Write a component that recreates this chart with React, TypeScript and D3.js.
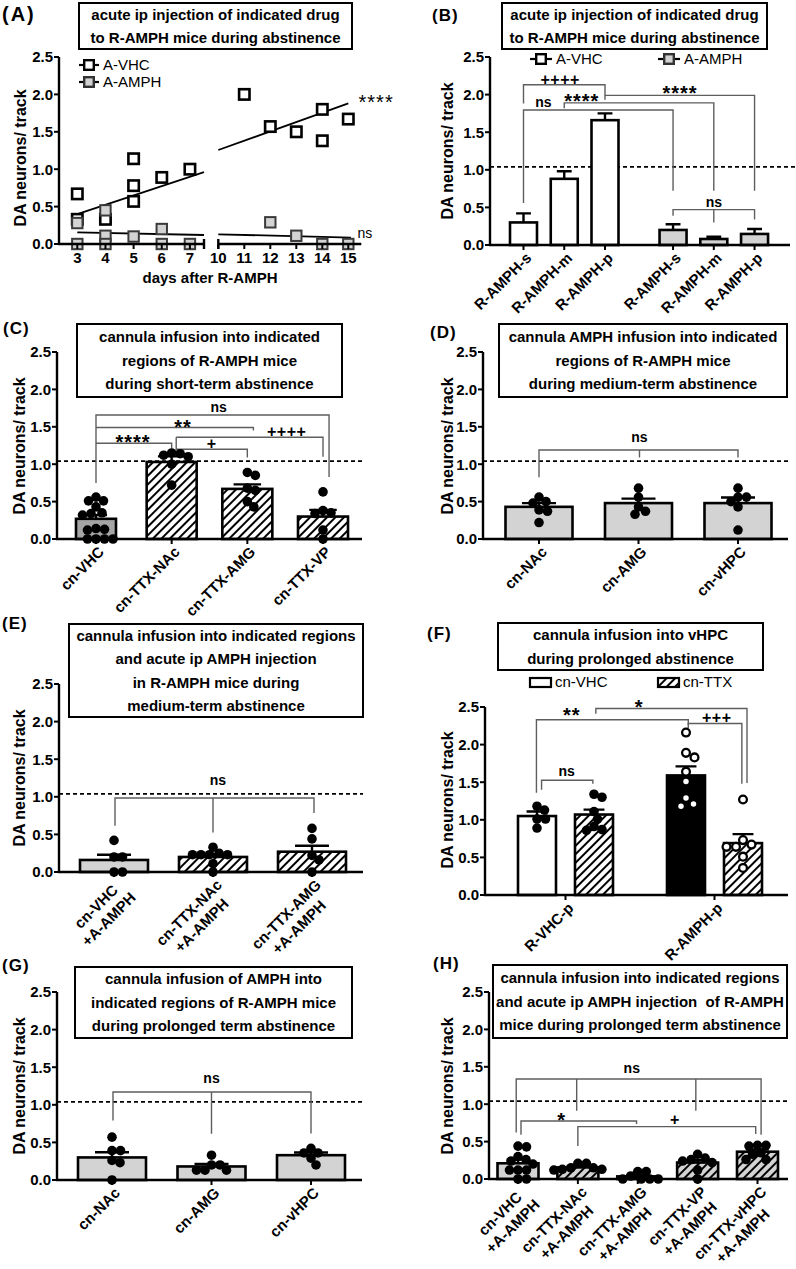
import React from 'react';
import * as d3 from 'd3';

const FONT = 'Arial, "Liberation Sans", Helvetica, sans-serif';
const LIGHT = '#d3d3d3';
const MID = '#a5a5a5';
const LINK = '#5e5e5e';

const yTickValues = [0, 0.5, 1.0, 1.5, 2.0, 2.5];
const controlLevel = 1.04;

// (A) scatter over abstinence days
const aDaysEarly = [3, 4, 5, 6, 7];
const aDaysLate = [10, 11, 12, 13, 14, 15];
const aVhcPoints = [[3, 0.67], [3, 0.33], [4, 0.33], [5, 1.14], [5, 0.78], [5, 0.57], [6, 0.89], [7, 1.0], [11, 2.0], [12, 1.57], [13, 1.5], [14, 1.8], [14, 1.38], [15, 1.67]];
const aAmphPoints = [[3, 0.28], [3, 0], [4, 0.45], [4, 0.11], [4, 0], [5, 0.1], [6, 0.2], [6, 0], [7, 0], [12, 0.29], [13, 0.11], [14, 0], [15, 0]];
const aVhcFitEarly = [[3, 0.4], [7.5, 0.96]];
const aVhcFitLate = [[10, 1.257], [15, 1.88]];
const aAmphFitEarly = [[3, 0.156], [7.5, 0.12]];
const aAmphFitLate = [[10, 0.13], [15.1, 0.084]];
const aMarks = [{ day: 16.07, v: 1.965, text: '****' }, { day: 15.64, v: 0.134, text: 'ns' }];

// (B)
const bCategories = ['R-AMPH-s', 'R-AMPH-m', 'R-AMPH-p'];
const bVhcMean = [0.3, 0.88, 1.66];
const bVhcSem = [0.12, 0.1, 0.09];
const bAmphMean = [0.2, 0.08, 0.147];
const bAmphSem = [0.075, 0.03, 0.065];
const bBrackets = [
  { x1: 0, x2: 2, y: 2.13, l1: 1.88, l2: 1.99 },
  { x1: 1, x2: 4, y: 1.89, l1: 1.82, l2: 0.72 },
  { x1: 2, x2: 5, y: 1.99, l1: 1.93, l2: 0.72 },
  { x1: 0, x2: 3, y: 1.795, l1: 0.56, l2: 0.72 },
  { x1: 3, x2: 5, y: 0.47, l1: 0.39, l2: 0.34, mids: [[4, 0.3]] },
];
const bMarks = [
  { x: 0.9, y: 2.2, text: '++++' },
  { x: 1.43, y: 1.98, text: '****' },
  { x: 3.17, y: 2.08, text: '****' },
  { x: 0.49, y: 1.88, text: 'ns' },
  { x: 4.0, y: 0.56, text: 'ns' },
];

// (C)
const cCategories = ['cn-VHC', 'cn-TTX-NAc', 'cn-TTX-AMG', 'cn-TTX-VP'];
const cMeans = [0.27, 1.03, 0.67, 0.3];
const cSems = [0.05, 0.075, 0.06, 0.09];
const cPoints = [
  [0.56, 0.51, 0.51, 0.43, 0.35, 0.34, 0.32, 0.14, 0.13, 0.12, 0, 0, 0, 0],
  [1.15, 1.14, 1.12, 1.1, 1.0, 0.72],
  [0.89, 0.85, 0.68, 0.65, 0.5, 0.43],
  [0.63, 0.38, 0.35, 0.34, 0.12, 0],
];
const cBrackets = [
  { x1: 0, x2: 3.08, y: 1.658, l1: 0.75, l2: 0.83 },
  { x1: 0, x2: 2.08, y: 1.49, l2: 1.45 },
  { x1: 0, x2: 1.0, y: 1.28, l2: 1.21 },
  { x1: 1.06, x2: 2.0, y: 1.2, l1: 1.36, l2: 1.09 },
  { x1: 1.06, x2: 3.0, y: 1.36, l2: 1.1 },
];
const cMarks = [
  { x: 1.62, y: 1.75, text: 'ns' },
  { x: 1.15, y: 1.56, text: '**' },
  { x: 0.49, y: 1.36, text: '****' },
  { x: 1.53, y: 1.28, text: '+' },
  { x: 2.52, y: 1.43, text: '++++' },
];

// (D)
const dCategories = ['cn-NAc', 'cn-AMG', 'cn-vHPC'];
const dMeans = [0.43, 0.48, 0.48];
const dSems = [0.05, 0.06, 0.075];
const dPoints = [
  [0.56, 0.5, 0.48, 0.39, 0.37, 0.22],
  [0.68, 0.56, 0.43, 0.37, 0.33],
  [0.68, 0.56, 0.56, 0.5, 0.43, 0.12],
];
const dBrackets = [{ x1: 0, x2: 2, y: 1.19, l1: 0.825, l2: 1.09, mids: [[1.01, 1.09]] }];
const dMarks = [{ x: 1.01, y: 1.35, text: 'ns' }];

// (E)
const eCategories = [['cn-VHC', '+A-AMPH'], ['cn-TTX-NAc', '+A-AMPH'], ['cn-TTX-AMG', '+A-AMPH']];
const eMeans = [0.16, 0.2, 0.27];
const eSems = [0.07, 0.03, 0.08];
const ePoints = [
  [0.42, 0.2, 0.2, 0, 0],
  [0.33, 0.25, 0.23, 0.23, 0.23, 0.23, 0.11, 0],
  [0.58, 0.44, 0.22, 0.16, 0],
];
const eBrackets = [{ x1: 0.01, x2: 2.02, y: 0.985, l1: 0.615, l2: 0.785, mids: [[1.0, 0.525]] }];
const eMarks = [{ x: 1.05, y: 1.206, text: 'ns' }];

// (F)
const fGroups = ['R-VHC-p', 'R-AMPH-p'];
const fTreatments = ['cn-VHC', 'cn-TTX'];
const fMeans = [1.05, 1.07, 1.59, 0.69];
const fSems = [0.06, 0.065, 0.12, 0.12];
const fPoints = [
  [1.18, 1.13, 1.01, 1.01, 0.89],
  [1.34, 1.3, 1.11, 1.01, 0.91, 0.87, 0.86],
  [2.16, 1.89, 1.83, 1.64, 1.51, 1.29, 1.21, 1.18],
  [1.27, 0.73, 0.67, 0.64, 0.64, 0.51, 0.36],
];
const fBrackets = [
  { x1: 0.08, x2: 0.98, y: 1.525, l1: 1.4, l2: 1.48 },
  { x1: -0.01, x2: 2.04, y: 2.33, l1: 1.36, l2: 2.26 },
  { x1: 1.02, x2: 3.07, y: 2.48, l1: 2.41, l2: 1.49 },
  { x1: 2.04, x2: 2.98, y: 2.28, l1: 2.22, l2: 1.48 },
];
const fMarks = [
  { x: 0.52, y: 1.63, text: 'ns' },
  { x: 0.61, y: 2.46, text: '**' },
  { x: 1.49, y: 2.56, text: '*' },
  { x: 2.54, y: 2.36, text: '+++' },
];

// (G)
const gCategories = ['cn-NAc', 'cn-AMG', 'cn-vHPC'];
const gMeans = [0.3, 0.18, 0.33];
const gSems = [0.07, 0.035, 0.035];
const gPoints = [
  [0.57, 0.39, 0.39, 0.26, 0.23, 0],
  [0.33, 0.2, 0.2, 0.13, 0.13, 0.13],
  [0.42, 0.36, 0.36, 0.29, 0.2],
];
const gBrackets = [{ x1: 0.01, x2: 2.0, y: 1.17, l1: 0.79, l2: 0.62, mids: [[1.0, 0.615]] }];
const gMarks = [{ x: 1.0, y: 1.34, text: 'ns' }];

// (H)
const hCategories = [['cn-VHC', '+A-AMPH'], ['cn-TTX-NAc', '+A-AMPH'], ['cn-TTX-AMG', '+A-AMPH'], ['cn-TTX-VP', '+A-AMPH'], ['cn-TTX-vHPC', '+A-AMPH']];
const hMeans = [0.21, 0.155, 0.035, 0.22, 0.365];
const hSems = [0.05, 0.02, 0.015, 0.03, 0.03];
const hPoints = [
  [0.44, 0.43, 0.3, 0.26, 0.24, 0.2, 0.12, 0.12, 0.12, 0, 0],
  [0.21, 0.21, 0.15, 0.15, 0.13, 0.13, 0.12],
  [0.1, 0.1, 0.04, 0, 0, 0, 0],
  [0.33, 0.28, 0.26, 0.24, 0.22, 0.12, 0],
  [0.45, 0.45, 0.44, 0.35, 0.33, 0.26, 0.26],
];
const hBrackets = [
  { x1: -0.03, x2: 4.06, y: 1.337, l1: 0.62, l2: 0.59, mids: [[0.98, 0.913], [2.97, 0.913]] },
  { x1: 0.05, x2: 1.98, y: 0.775, l1: 0.59, l2: 0.735 },
  { x1: 1.0, x2: 3.97, y: 0.7, l1: 0.44, l2: 0.6 },
];
const hMarks = [
  { x: 1.9, y: 1.47, text: 'ns' },
  { x: 0.73, y: 0.856, text: '*' },
  { x: 2.62, y: 0.79, text: '+' },
];

let measureCtx: CanvasRenderingContext2D | null = null;
function textWidth(s: string, size: number) {
  if (!measureCtx) measureCtx = document.createElement('canvas').getContext('2d');
  if (!measureCtx) return s.length * size * 0.6;
  measureCtx.font = `bold ${size}px ${FONT}`;
  return measureCtx.measureText(s).width;
}

function markStyle(text: string) {
  if (text.includes('*')) return { fs: 20, ls: 1, k: 0.58 };
  if (text.includes('+')) return { fs: 16, ls: 0.5, k: 0.33 };
  return { fs: 14, ls: 0, k: 0.27 };
}

// simple beeswarm: each point slides sideways until it stops overlapping
function swarm(vals: number[], y: (v: number) => number, minD: number) {
  const placed: { dx: number; y: number }[] = [];
  [...vals].sort((a, b) => b - a).forEach(v => {
    const py = y(v);
    let dx = 0;
    for (let k = 0; k < 300; k++) {
      const c = k === 0 ? 0 : (k % 2 === 1 ? 1 : -1) * Math.ceil(k / 2) * 0.5;
      if (placed.every(p => Math.hypot(p.dx - c, p.y - py) >= minD)) { dx = c; break; }
    }
    placed.push({ dx, y: py });
  });
  return placed;
}

function Frame(p: any) {
  const { y } = p;
  const [bx1, by1, bx2, by2] = p.box;
  const bcy = (by1 + by2) / 2;
  return (
    <g>
      <text x={p.letterX} y={p.letterCy} dy="0.36em" fontSize={p.letterSize || 17} fontWeight="bold" letterSpacing={p.letterSize ? 2 : 1}>{p.letter}</text>
      <rect x={bx1} y={by1} width={bx2 - bx1} height={by2 - by1} fill="#fff" stroke="#000" strokeWidth={2} />
      {p.title.map((t: string, i: number) => (
        <text key={i} x={(bx1 + bx2) / 2} y={bcy + (i - (p.title.length - 1) / 2) * 23.5} dy="0.35em" textAnchor="middle" fontSize={15} fontWeight="bold" style={{ whiteSpace: 'pre' }}>{t}</text>
      ))}
      <line x1={p.axisX} x2={p.axisX} y1={y(0) + 1} y2={y(2.5)} stroke="#000" strokeWidth={2.4} />
      {yTickValues.map(t => (
        <g key={t}>
          <line x1={p.axisX - 5} x2={p.axisX} y1={y(t)} y2={y(t)} stroke="#000" strokeWidth={2} />
          <text x={p.axisX - 6} y={y(t)} dy="0.36em" textAnchor="end" fontSize={15} fontWeight="bold">{d3.format('.1f')(t)}</text>
        </g>
      ))}
      <text transform={`translate(${p.labelX},${p.labelCy}) rotate(-90)`} dy="0.36em" textAnchor="middle" fontSize={16} fontWeight="bold">DA neurons/ track</text>
    </g>
  );
}

function Brackets({ list, xi, y }: any) {
  return (
    <g stroke={LINK} strokeWidth={1.4} fill="none">
      {list.map((b: any, i: number) => {
        let d = `M${xi(b.x1)},${y(b.l1 != null ? b.l1 : b.y)}V${y(b.y)}H${xi(b.x2)}`;
        if (b.l2 != null) d += `V${y(b.l2)}`;
        (b.mids || []).forEach((m: number[]) => { d += `M${xi(m[0])},${y(b.y)}V${y(m[1])}`; });
        return <path key={i} d={d} />;
      })}
    </g>
  );
}

function Marks({ list, xi, y, weight = 'bold' }: any) {
  return (
    <g>
      {list.map((m: any, i: number) => {
        const s = markStyle(m.text);
        return <text key={i} x={xi(m.x)} y={y(m.y) + s.k * s.fs} textAnchor="middle" fontSize={s.fs} fontWeight={weight} letterSpacing={s.ls}>{m.text}</text>;
      })}
    </g>
  );
}

function XLabel({ x, y0, label }: any) {
  const lines: string[] = Array.isArray(label) ? label : [label];
  const fs = 15;
  if (lines.length === 1) {
    return <text transform={`translate(${x + 1},${y0 + 6}) rotate(-45)`} dy="0.75em" textAnchor="end" fontSize={fs} fontWeight="bold">{lines[0]}</text>;
  }
  const w = Math.max(...lines.map(l => textWidth(l, fs)));
  return (
    <g transform={`translate(${x + 2},${y0 + 6}) rotate(-45)`}>
      {lines.map((l, i) => (
        <text key={i} x={-w / 2} y={i * 18} dy="0.75em" textAnchor="middle" fontSize={fs} fontWeight="bold">{l}</text>
      ))}
    </g>
  );
}

function BarPanel(p: any) {
  const { y, centers } = p;
  const xi = d3.scaleLinear().domain(d3.range(centers.length)).range(centers);
  const y0 = y(0);
  return (
    <g>
      <Frame {...p.frame} y={y} />
      {p.dashed && (
        <line x1={p.frame.axisX} x2={p.dashedEnd || p.axisEnd} y1={y(controlLevel)} y2={y(controlLevel)} stroke="#000" strokeWidth={1.8} strokeDasharray="4 3" />
      )}
      <Brackets list={p.brackets} xi={xi} y={y} />
      <Marks list={p.marks} xi={xi} y={y} />
      {centers.map((cx: number, i: number) => {
        const w = p.widths[i];
        const top = y(p.means[i]);
        const err = y(p.means[i] + p.sems[i]);
        const cap = Math.min(w * 0.55, 34);
        return (
          <g key={i}>
            <rect x={cx - w / 2} y={top} width={w} height={y0 - top} fill={p.fills[i]} stroke="#000" strokeWidth={2.6} />
            <path d={`M${cx},${top}V${err}M${cx - cap / 2},${err}H${cx + cap / 2}`} stroke="#000" strokeWidth={2.4} fill="none" />
          </g>
        );
      })}
      {(p.points || []).map((vals: number[], i: number) => {
        const open = p.open && p.open[i];
        const r = open ? 3.9 : 4.8;
        return swarm(vals, y, open ? 9.5 : 8.2).map((d, j) => (
          <circle key={`${i}-${j}`} cx={centers[i] + d.dx} cy={d.y} r={r} fill={open ? '#fff' : '#000'} stroke="#000" strokeWidth={open ? 2.3 : 0} />
        ));
      })}
      <line x1={p.frame.axisX - 1} x2={p.axisEnd} y1={y0} y2={y0} stroke="#000" strokeWidth={2.4} />
      {p.ticks.map((t: number, i: number) => (
        <g key={i}>
          <line x1={t} x2={t} y1={y0} y2={y0 + 5} stroke="#000" strokeWidth={2} />
          <XLabel x={t} y0={y0} label={p.tickLabels[i]} />
        </g>
      ))}
      {p.children}
    </g>
  );
}

function PanelA() {
  const y = d3.scaleLinear().domain([0, 2.5]).range([244, 57]);
  const x1 = d3.scaleLinear().domain([2.35, 7.5]).range([59, 204]);
  const x2 = d3.scaleLinear().domain([10, 15.5]).range([218.3, 361.3]);
  const x = (d: number) => (d < 9 ? x1(d) : x2(d));
  const line = d3.line<number[]>().x(d => x(d[0])).y(d => y(d[1]));
  const sq = 10.4;
  const y0 = y(0);
  const square = (pt: number[], i: number, fill: string, stroke: string, sw: number) => (
    <rect key={i} x={x(pt[0]) - sq / 2} y={y(pt[1]) - sq / 2} width={sq} height={sq} fill={fill} stroke={stroke} strokeWidth={sw} />
  );
  const legend = [
    { label: 'A-VHC', fill: '#fff', stroke: '#000', cy: 65 },
    { label: 'A-AMPH', fill: LIGHT, stroke: '#333', cy: 82 },
  ];
  return (
    <g>
      <Frame letter="(A)" letterX={2} letterCy={14} letterSize={20} box={[79, 3, 352, 49]}
        title={['acute ip injection of indicated drug', 'to R-AMPH mice during abstinence']}
        axisX={59} y={y} labelX={20} labelCy={158} />
      {legend.map(l => (
        <g key={l.label}>
          <line x1={79} x2={99} y1={l.cy} y2={l.cy} stroke="#000" strokeWidth={2.2} />
          <rect x={89 - 4.8} y={l.cy - 4.8} width={9.6} height={9.6} fill={l.fill} stroke={l.stroke} strokeWidth={2.4} />
          <text x={103} y={l.cy} dy="0.36em" fontSize={15}>{l.label}</text>
        </g>
      ))}
      {[aVhcFitEarly, aVhcFitLate, aAmphFitEarly, aAmphFitLate].map((f, i) => (
        <path key={i} d={line(f) || ''} stroke="#000" strokeWidth={1.8} fill="none" />
      ))}
      {aVhcPoints.map((pt, i) => square(pt, i, '#fff', '#000', 2.6))}
      {aAmphPoints.map((pt, i) => square(pt, i + 100, LIGHT, '#3a3a3a', 2))}
      {aMarks.map((m, i) => (
        <text key={i} x={x(m.day)} y={y(m.v) + markStyle(m.text).k * markStyle(m.text).fs} textAnchor="middle"
          fontSize={markStyle(m.text).fs} letterSpacing={markStyle(m.text).ls}>{m.text}</text>
      ))}
      <path d={`M58,${y0}H${x1(7.5)}M${x1(7.5)},${y0 - 5}V${y0 + 5}M${x2(10)},${y0 - 5}V${y0 + 5}M${x2(10)},${y0}H${x2(15.5)}`}
        stroke="#000" strokeWidth={2.4} fill="none" />
      {[...aDaysEarly, ...aDaysLate].map(d => (
        <g key={d}>
          <line x1={x(d)} x2={x(d)} y1={y0} y2={y0 + 5} stroke="#000" strokeWidth={2} />
          <text x={x(d)} y={y0 + 14} dy="0.36em" textAnchor="middle" fontSize={15} fontWeight="bold">{d}</text>
        </g>
      ))}
      <text x={210} y={278} dy="0.36em" textAnchor="middle" fontSize={15} fontWeight="bold">days after R-AMPH</text>
    </g>
  );
}

export default function App() {
  // (B) layout: two groups of three bars with a wider gap between them
  const bSlot = d3.scaleLinear().domain([0, 1]).range([523.5, 564.25]);
  const bCenters = [...bCategories, ...bCategories].map((_, i) => bSlot(i + (i >= bCategories.length ? 0.67 : 0)));
  const yB = d3.scaleLinear().domain([0, 2.5]).range([245, 57]);

  const yC = d3.scaleLinear().domain([0, 2.5]).range([539, 352]);
  const cCenters = cCategories.map(c => d3.scalePoint().domain(cCategories).range([96, 323])(c) as number);

  const yD = d3.scaleLinear().domain([0, 2.5]).range([539, 352]);
  const dCenters = dCategories.map(c => d3.scalePoint().domain(dCategories).range([539, 738])(c) as number);

  const yE = d3.scaleLinear().domain([0, 2.5]).range([872, 684]);
  const eKeys = eCategories.map(c => c.join(' '));
  const eCenters = eKeys.map(c => d3.scalePoint().domain(eKeys).range([114, 312])(c) as number);

  const yF = d3.scaleLinear().domain([0, 2.5]).range([895, 707]);
  const fGroupX = d3.scalePoint().domain(fGroups).range([565.5, 714.5]);
  const fInner = d3.scalePoint().domain(fTreatments).range([-28.5, 28.5]);
  const fCenters = fGroups.flatMap(g => fTreatments.map(t => (fGroupX(g) as number) + (fInner(t) as number)));

  const yG = d3.scaleLinear().domain([0, 2.5]).range([1180, 992]);
  const gCenters = gCategories.map(c => d3.scalePoint().domain(gCategories).range([112, 311])(c) as number);

  const yH = d3.scaleLinear().domain([0, 2.5]).range([1179, 992]);
  const hKeys = hCategories.map(c => c.join(' '));
  const hCenters = hKeys.map(c => d3.scalePoint().domain(hKeys).range([518, 757.5])(c) as number);

  const HW = 'url(#hatchW)';
  const HG = 'url(#hatchG)';

  return (
    <div style={{ position: 'absolute', left: 0, top: 0, background: '#fff' }}>
      <svg width={796} height={1269} fontFamily={FONT} style={{ display: 'block' }}>
        <defs>
          <pattern id="hatchW" patternUnits="userSpaceOnUse" width={6} height={6} patternTransform="rotate(45)">
            <rect width={6} height={6} fill="#fff" />
            <line x1={3} y1={0} x2={3} y2={6} stroke="#000" strokeWidth={2} />
          </pattern>
          <pattern id="hatchG" patternUnits="userSpaceOnUse" width={6} height={6} patternTransform="rotate(45)">
            <rect width={6} height={6} fill={LIGHT} />
            <line x1={3} y1={0} x2={3} y2={6} stroke="#000" strokeWidth={2} />
          </pattern>
        </defs>
        <rect width={796} height={1269} fill="#fff" />

        <PanelA />

        <BarPanel
          frame={{ letter: '(B)', letterX: 432, letterCy: 15, box: [502, 3, 767, 49], title: ['acute ip injection of indicated drug', 'to R-AMPH mice during abstinence'], axisX: 490, labelX: 447, labelCy: 151 }}
          y={yB} axisEnd={790} dashed dashedEnd={796} centers={bCenters} widths={bCenters.map(() => 27)}
          means={[...bVhcMean, ...bAmphMean]} sems={[...bVhcSem, ...bAmphSem]}
          fills={bCenters.map((_, i) => (i < 3 ? '#fff' : LIGHT))}
          ticks={bCenters} tickLabels={[...bCategories, ...bCategories]}
          brackets={bBrackets} marks={bMarks}>
          {[{ label: 'A-VHC', fill: '#fff', x: 530 }, { label: 'A-AMPH', fill: LIGHT, x: 658 }].map(l => (
            <g key={l.label}>
              <line x1={l.x} x2={l.x + 22} y1={59} y2={59} stroke="#000" strokeWidth={2.2} />
              <rect x={l.x + 11 - 4.8} y={59 - 4.8} width={9.6} height={9.6} fill={l.fill} stroke={l.fill === '#fff' ? '#000' : '#333'} strokeWidth={2.4} />
              <text x={l.x + 26} y={59} dy="0.36em" fontSize={15}>{l.label}</text>
            </g>
          ))}
        </BarPanel>

        <BarPanel
          frame={{ letter: '(C)', letterX: 3, letterCy: 328, box: [77, 324, 342, 397], title: ['cannula infusion into indicated', 'regions of R-AMPH mice', 'during short-term abstinence'], axisX: 57, labelX: 19, labelCy: 446 }}
          y={yC} axisEnd={362} dashed centers={cCenters} widths={[40, 50, 50, 50]}
          means={cMeans} sems={cSems} points={cPoints} fills={[MID, HW, HW, HW]}
          ticks={cCenters} tickLabels={cCategories} brackets={cBrackets} marks={cMarks} />

        <BarPanel
          frame={{ letter: '(D)', letterX: 430, letterCy: 332, box: [499, 324, 787, 397], title: ['cannula AMPH infusion into indicated', 'regions of R-AMPH mice', 'during medium-term abstinence'], axisX: 483, labelX: 447, labelCy: 446 }}
          y={yD} axisEnd={788} dashed centers={dCenters} widths={[67, 67, 67]}
          means={dMeans} sems={dSems} points={dPoints} fills={[LIGHT, LIGHT, LIGHT]}
          ticks={dCenters} tickLabels={dCategories} brackets={dBrackets} marks={dMarks} />

        <BarPanel
          frame={{ letter: '(E)', letterX: 2, letterCy: 623, box: [69, 624, 363, 717], title: ['cannula infusion into indicated regions', 'and acute ip AMPH injection', 'in R-AMPH mice during', 'medium-term abstinence'], axisX: 59, labelX: 19, labelCy: 778 }}
          y={yE} axisEnd={363} dashed centers={eCenters} widths={[68, 68, 68]}
          means={eMeans} sems={eSems} points={ePoints} fills={[LIGHT, HW, HW]}
          ticks={eCenters} tickLabels={eCategories} brackets={eBrackets} marks={eMarks} />

        <BarPanel
          frame={{ letter: '(F)', letterX: 427, letterCy: 633, box: [498, 623, 763, 670], title: ['cannula infusion into vHPC', 'during prolonged abstinence'], axisX: 485, labelX: 447, labelCy: 800 }}
          y={yF} axisEnd={788} centers={fCenters} widths={[38, 38, 38, 38]}
          means={fMeans} sems={fSems} points={fPoints} open={[false, false, true, true]}
          fills={['#fff', HW, '#000', HW]}
          ticks={fGroups.map(g => fGroupX(g) as number)} tickLabels={fGroups}
          brackets={fBrackets} marks={fMarks}>
          {fTreatments.map((t, i) => (
            <g key={t}>
              <rect x={[530, 658][i]} y={678} width={21} height={9} fill={i === 0 ? '#fff' : HW} stroke="#000" strokeWidth={2.2} />
              <text x={[555, 683][i]} y={682} dy="0.36em" fontSize={15}>{t}</text>
            </g>
          ))}
        </BarPanel>

        <BarPanel
          frame={{ letter: '(G)', letterX: 2, letterCy: 965, box: [75, 967, 352, 1038], title: ['cannula infusion of AMPH into', 'indicated regions of R-AMPH mice', 'during prolonged term abstinence'], axisX: 57, labelX: 19, labelCy: 1086 }}
          y={yG} axisEnd={362} dashed centers={gCenters} widths={[68, 68, 68]}
          means={gMeans} sems={gSems} points={gPoints} fills={[LIGHT, LIGHT, LIGHT]}
          ticks={gCenters} tickLabels={gCategories} brackets={gBrackets} marks={gMarks} />

        <BarPanel
          frame={{ letter: '(H)', letterX: 433, letterCy: 963, box: [493, 965, 787, 1038], title: ['cannula infusion into indicated regions', 'and acute ip AMPH injection  of R-AMPH', 'mice during prolonged term abstinence'], axisX: 489, labelX: 447, labelCy: 1086 }}
          y={yH} axisEnd={788} dashed centers={hCenters} widths={[41, 41, 41, 41, 41]}
          means={hMeans} sems={hSems} points={hPoints} fills={[LIGHT, HG, HG, HG, HG]}
          ticks={hCenters} tickLabels={hCategories} brackets={hBrackets} marks={hMarks} />
      </svg>
    </div>
  );
}
